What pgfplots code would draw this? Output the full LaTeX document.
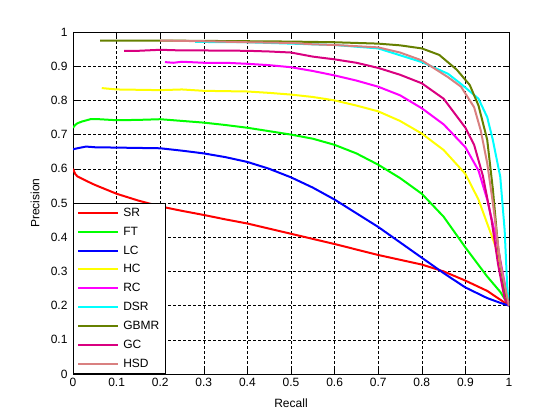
\documentclass[border=0pt]{standalone}
\usepackage{pgfplots}
\pgfplotsset{compat=1.18}
\usepackage{fontspec}
\setmainfont{Liberation Sans}
\definecolor{cSR}{rgb}{1,0,0}
\definecolor{cFT}{rgb}{0,1,0}
\definecolor{cLC}{rgb}{0,0,1}
\definecolor{cHC}{rgb}{1,1,0}
\definecolor{cRC}{rgb}{1,0,1}
\definecolor{cDSR}{rgb}{0,1,1}
\definecolor{cGBMR}{rgb}{0.4,0.5,0}
\definecolor{cGC}{rgb}{0.85,0,0.5}
\definecolor{cHSD}{rgb}{0.85,0.5,0.5}
\tikzset{pl/.style={line width=2bp, #1, mark=none}}
\begin{document}
\begin{tikzpicture}[font=\fontsize{12bp}{14bp}\selectfont]
\path[use as bounding box] (0,0) rectangle (560bp,420bp);
\begin{axis}[
  at={(73bp,46bp)}, anchor=south west,
  scale only axis, width=436bp, height=342bp,
  xmin=0, xmax=1, ymin=0, ymax=1,
  xtick={0,0.1,...,1}, ytick={0,0.1,...,1},
  xticklabels={0,0.1,0.2,0.3,0.4,0.5,0.6,0.7,0.8,0.9,1},
  yticklabels={0,0.1,0.2,0.3,0.4,0.5,0.6,0.7,0.8,0.9,1},
  tick align=inside, major tick length=5bp,
  tick style={black, line width=0.5bp},
  axis line style={black, line width=0.6bp},
  grid=major,
  grid style={black, dash pattern=on 2.5bp off 2.5bp, line width=0.5bp},
  xlabel={Recall}, ylabel={Precision},
  xlabel style={at={(axis description cs:0.5,0)}, anchor=center, yshift=-29bp},
  ylabel style={at={(axis description cs:-0.087,0.5)}, anchor=center},
  xticklabel style={yshift=-1bp},
  yticklabel style={xshift=-2bp},
  /pgf/number format/assume math mode=true,
  legend cell align=left,
  legend style={at={(0,0)}, anchor=south west, draw=black, line width=0.6bp,
    font=\fontsize{12bp}{14bp}\selectfont, row sep=5bp, inner xsep=4bp, inner ysep=3bp,
    fill=white},
  legend image code/.code={\draw[#1] (3bp,0bp) -- (43bp,0bp); \path (45bp,0bp);},
]
\addplot[pl=cSR] coordinates {(0,0.60)(0.005,0.585)(0.01,0.578)(0.03,0.565)(0.05,0.553)(0.1,0.527)(0.15,0.507)(0.2,0.49)(0.25,0.477)(0.3,0.465)(0.35,0.452)(0.4,0.44)(0.45,0.425)(0.5,0.41)(0.55,0.395)(0.6,0.38)(0.65,0.364)(0.7,0.348)(0.75,0.334)(0.8,0.32)(0.85,0.3)(0.9,0.273)(0.95,0.243)(1,0.2)};
\addlegendentry{SR}
\addplot[pl=cFT] coordinates {(0,0.72)(0.005,0.728)(0.01,0.733)(0.02,0.738)(0.04,0.745)(0.06,0.745)(0.1,0.742)(0.15,0.743)(0.2,0.745)(0.25,0.74)(0.3,0.735)(0.35,0.728)(0.4,0.72)(0.45,0.71)(0.5,0.7)(0.55,0.688)(0.6,0.67)(0.65,0.645)(0.7,0.612)(0.75,0.573)(0.8,0.527)(0.85,0.46)(0.9,0.37)(0.95,0.285)(0.98,0.24)(1,0.2)};
\addlegendentry{FT}
\addplot[pl=cLC] coordinates {(0,0.657)(0.01,0.66)(0.03,0.665)(0.05,0.663)(0.1,0.662)(0.15,0.661)(0.2,0.66)(0.25,0.653)(0.3,0.645)(0.35,0.634)(0.4,0.62)(0.45,0.6)(0.5,0.575)(0.55,0.545)(0.6,0.51)(0.65,0.47)(0.7,0.43)(0.75,0.385)(0.8,0.34)(0.85,0.295)(0.9,0.253)(0.95,0.222)(0.98,0.208)(1,0.2)};
\addlegendentry{LC}
\addplot[pl=cHC] coordinates {(0.066,0.836)(0.1,0.832)(0.2,0.83)(0.25,0.832)(0.3,0.828)(0.4,0.826)(0.45,0.822)(0.5,0.817)(0.55,0.81)(0.6,0.8)(0.65,0.785)(0.7,0.768)(0.75,0.74)(0.8,0.703)(0.85,0.655)(0.9,0.585)(0.93,0.51)(0.95,0.44)(0.97,0.37)(0.985,0.29)(1,0.2)};
\addlegendentry{HC}
\addplot[pl=cRC] coordinates {(0.211,0.912)(0.23,0.91)(0.25,0.913)(0.3,0.91)(0.35,0.91)(0.4,0.907)(0.45,0.903)(0.5,0.897)(0.55,0.886)(0.6,0.873)(0.65,0.858)(0.7,0.84)(0.75,0.815)(0.8,0.777)(0.85,0.73)(0.9,0.663)(0.93,0.595)(0.95,0.51)(0.97,0.4)(0.985,0.3)(1,0.2)};
\addlegendentry{RC}
\addplot[pl=cDSR] coordinates {(0.28,0.971)(0.4,0.97)(0.5,0.966)(0.6,0.962)(0.7,0.952)(0.8,0.912)(0.86,0.878)(0.89,0.848)(0.93,0.805)(0.95,0.751)(0.963,0.684)(0.98,0.576)(0.99,0.421)(0.996,0.254)(1,0.2)};
\addlegendentry{DSR}
\addplot[pl=cGBMR] coordinates {(0.062,0.975)(0.1,0.975)(0.2,0.975)(0.3,0.974)(0.4,0.973)(0.5,0.972)(0.6,0.97)(0.7,0.966)(0.75,0.961)(0.8,0.952)(0.84,0.933)(0.88,0.89)(0.91,0.845)(0.93,0.785)(0.95,0.685)(0.963,0.54)(0.975,0.37)(0.99,0.24)(1,0.2)};
\addlegendentry{GBMR}
\addplot[pl=cGC] coordinates {(0.117,0.945)(0.15,0.945)(0.2,0.948)(0.25,0.946)(0.3,0.946)(0.4,0.945)(0.45,0.943)(0.5,0.94)(0.55,0.928)(0.6,0.92)(0.65,0.91)(0.7,0.895)(0.75,0.875)(0.8,0.85)(0.85,0.805)(0.9,0.72)(0.92,0.67)(0.94,0.58)(0.96,0.45)(0.975,0.32)(0.99,0.22)(1,0.2)};
\addlegendentry{GC}
\addplot[pl=cHSD] coordinates {(0.2,0.975)(0.3,0.973)(0.4,0.97)(0.5,0.968)(0.55,0.964)(0.6,0.962)(0.7,0.955)(0.75,0.94)(0.8,0.917)(0.86,0.868)(0.89,0.84)(0.92,0.78)(0.935,0.713)(0.95,0.617)(0.963,0.5)(0.98,0.325)(0.995,0.23)(1,0.2)};
\addlegendentry{HSD}
\end{axis}
\end{tikzpicture}
\end{document}
